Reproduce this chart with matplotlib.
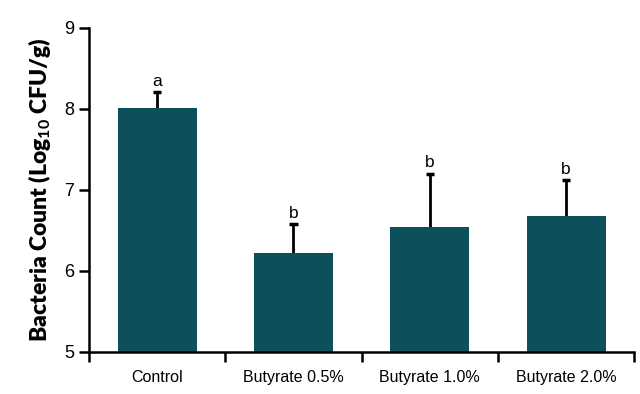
import matplotlib
matplotlib.use('Agg')
import matplotlib.pyplot as plt
import numpy as np

groups = ['Control', 'Butyrate 0.5%', 'Butyrate 1.0%', 'Butyrate 2.0%']
means = [8.01, 6.22, 6.54, 6.68]
err_up = [0.20, 0.36, 0.66, 0.44]
letters = ['a', 'b', 'b', 'b']

plt.rcParams['font.family'] = ['Liberation Sans', 'DejaVu Sans']
plt.rcParams['mathtext.fontset'] = 'custom'
plt.rcParams['mathtext.rm'] = 'Lato:bold'
plt.rcParams['mathtext.bf'] = 'Lato:bold'

fig = plt.figure(figsize=(6.4, 3.94), dpi=100)
ax = fig.add_axes([0.139, 0.107, 0.852, 0.822])

x = np.arange(len(groups))
tops = np.array(means) + np.array(err_up)
bar_color = '#0d4f5b'
ax.bar(x, means, width=0.58, color=bar_color, zorder=2)
# upper error bars only
ax.vlines(x, means, tops, color='black', linewidth=2, zorder=1)
ax.hlines(tops, x - 0.03, x + 0.03, color='black', linewidth=2.5, zorder=1)

for xi, t, lab in zip(x, tops, letters):
    ax.text(xi, t + 0.04, lab, ha='center', va='bottom', fontsize=12.5)

ax.set_ylim(5, 9)
ax.set_xlim(-0.5, 3.5)
ax.set_yticks([5, 6, 7, 8, 9])
ax.tick_params(axis='y', labelsize=13, width=1.8, length=7, direction='out')

ax.set_xticks(x)
ax.set_xticklabels(groups, fontsize=11.5)
ax.tick_params(axis='x', length=0, pad=13)
ax.set_xticks(np.arange(-0.5, 4.0, 1.0), minor=True)
ax.tick_params(axis='x', which='minor', length=7, width=1.8, direction='out')

for s in ['top', 'right']:
    ax.spines[s].set_visible(False)
for s in ['left', 'bottom']:
    ax.spines[s].set_linewidth(1.8)

ax.set_ylabel(r'Bacteria Count (Log$_{\mathbf{10}}$ CFU/g)', fontsize=16.5,
              fontfamily='Lato', fontweight='heavy', labelpad=8)

fig.savefig('out.png', dpi=100)
